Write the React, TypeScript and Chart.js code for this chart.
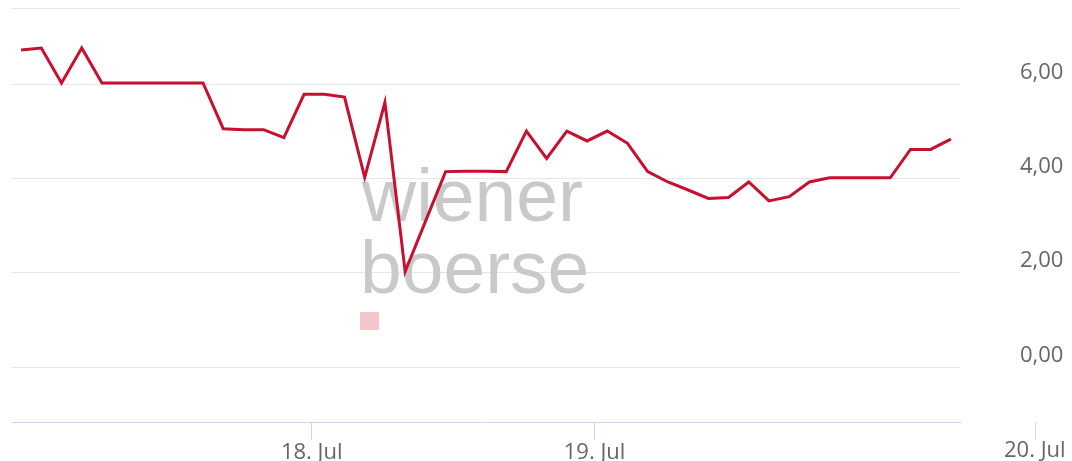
import React, { useEffect, useRef } from 'react';
import { Chart, registerables } from 'chart.js';

Chart.register(...registerables);

// Prices (EUR) at evenly spaced trading intervals (ordinal axis)
const prices: number[] = [
  6.73, 6.77, 6.03, 6.77, 6.03, 6.03, 6.03, 6.03, 6.03, 6.03,
  5.06, 5.04, 5.04, 4.87, 5.79, 5.79, 5.73, 4.03, 5.62, 2.03,
  3.09, 4.15, 4.16, 4.16, 4.15, 5.01, 4.43, 5.01, 4.80, 5.01,
  4.75, 4.15, 3.93, 3.76, 3.58, 3.60, 3.93, 3.53, 3.62, 3.93,
  4.02, 4.02, 4.02, 4.02, 4.62, 4.62, 4.84,
];

// Date ticks on the ordinal axis (position in point-index units)
const xTickLabels: string[] = ['18. Jul', '19. Jul', '20. Jul'];
const xTickPositions: number[] = [14.38, 28.37, 50.15];
const xMin = -0.45;
const xMax = 46.45;

const yTickValues: number[] = [0, 2, 4, 6];
const yMin = -1.16;
const yMax = 7.62;

const watermarkLines: string[] = ['wiener', 'boerse'];

const FONT_FAMILY = '"Open Sans", sans-serif';
const LABEL_SIZE = 22;
const LABEL_COLOR = '#666666';
const AXIS_COLOR = '#ccd6eb';
const X_TICK_LEN = 18;
const X_TICK_PAD = 0;

const fmt = (v: number) => v.toFixed(2).replace('.', ',');

const watermarkPlugin = {
  id: 'watermark',
  beforeDatasetsDraw(chart: any) {
    const ctx = chart.ctx;
    ctx.save();
    ctx.fillStyle = '#c9c9c9';
    ctx.font = '75px "Liberation Sans", Arial, sans-serif';
    ctx.textAlign = 'left';
    ctx.textBaseline = 'alphabetic';
    ctx.fillText(watermarkLines[0], 362, 221);
    ctx.fillText(watermarkLines[1], 360, 293);
    ctx.fillStyle = '#f3c5cc';
    ctx.fillRect(360, 312, 19, 18);
    ctx.restore();
  },
};

const extraTickPlugin = {
  id: 'extraTick',
  afterDraw(chart: any) {
    const xs = chart.scales.x;
    const ctx = chart.ctx;
    const i = xTickLabels.length - 1;
    const px = xs.getPixelForValue(xTickPositions[i]);
    ctx.save();
    ctx.strokeStyle = AXIS_COLOR;
    ctx.lineWidth = 1;
    ctx.beginPath();
    ctx.moveTo(Math.round(px) + 0.5, xs.top);
    ctx.lineTo(Math.round(px) + 0.5, xs.top + X_TICK_LEN);
    ctx.stroke();
    ctx.fillStyle = LABEL_COLOR;
    ctx.font = `${LABEL_SIZE}px ${FONT_FAMILY}`;
    ctx.textAlign = 'center';
    ctx.textBaseline = 'top';
    ctx.fillText(xTickLabels[i], px, xs.top + X_TICK_LEN + X_TICK_PAD);
    ctx.restore();
  },
};

export default function App() {
  const canvasRef = useRef<HTMLCanvasElement | null>(null);

  useEffect(() => {
    if (!canvasRef.current) return;
    const chart = new Chart(canvasRef.current, {
      type: 'line',
      data: {
        datasets: [
          {
            data: prices.map((y, i) => ({ x: i, y })),
            borderColor: '#c8102e',
            borderWidth: 3,
            pointRadius: 0,
            tension: 0,
            fill: false,
          },
        ],
      },
      options: {
        animation: false,
        responsive: false,
        devicePixelRatio: 1,
        layout: { autoPadding: false, padding: { top: 8, left: 12, right: 0, bottom: 0 } },
        plugins: {
          legend: { display: false },
          tooltip: { enabled: false },
        },
        scales: {
          x: {
            type: 'linear',
            min: xMin,
            max: xMax,
            afterBuildTicks: (axis: any) => {
              axis.ticks = xTickPositions.slice(0, 2).map((v) => ({ value: v }));
            },
            afterFit: (scale: any) => {
              scale.height = 39;
              scale.paddingLeft = 0;
              scale.paddingRight = 0;
              scale.paddingTop = 0;
              scale.paddingBottom = 0;
            },
            grid: {
              drawOnChartArea: false,
              drawTicks: true,
              tickLength: X_TICK_LEN,
              tickColor: AXIS_COLOR,
              color: AXIS_COLOR,
            },
            border: { display: true, color: AXIS_COLOR, width: 1 },
            ticks: {
              autoSkip: false,
              maxRotation: 0,
              padding: X_TICK_PAD,
              color: LABEL_COLOR,
              font: { family: FONT_FAMILY, size: LABEL_SIZE },
              callback: (value: any) => {
                const idx = xTickPositions.indexOf(Number(value));
                return idx >= 0 ? xTickLabels[idx] : '';
              },
            },
          },
          y: {
            type: 'linear',
            position: 'right',
            min: yMin,
            max: yMax,
            afterBuildTicks: (axis: any) => {
              axis.ticks = [...yTickValues, yMax].map((v) => ({ value: v }));
            },
            afterFit: (scale: any) => {
              scale.width = 112;
              scale.paddingTop = 0;
              scale.paddingBottom = 0;
              scale.paddingLeft = 0;
              scale.paddingRight = 0;
            },
            grid: {
              color: '#e6e6e6',
              drawTicks: false,
              lineWidth: 1,
            },
            border: { display: false },
            ticks: {
              padding: 60,
              labelOffset: -12,
              color: LABEL_COLOR,
              font: { family: FONT_FAMILY, size: LABEL_SIZE },
              callback: (value: any) =>
                yTickValues.includes(Number(value)) ? fmt(Number(value)) : '',
            },
          },
        },
      },
      plugins: [watermarkPlugin, extraTickPlugin],
    });
    return () => chart.destroy();
  }, []);

  return (
    <div
      style={{
        position: 'fixed',
        left: 0,
        top: 0,
        width: 1072,
        height: 461,
        overflow: 'hidden',
        background: '#ffffff',
      }}
    >
      <canvas ref={canvasRef} width={1072} height={461} />
    </div>
  );
}
